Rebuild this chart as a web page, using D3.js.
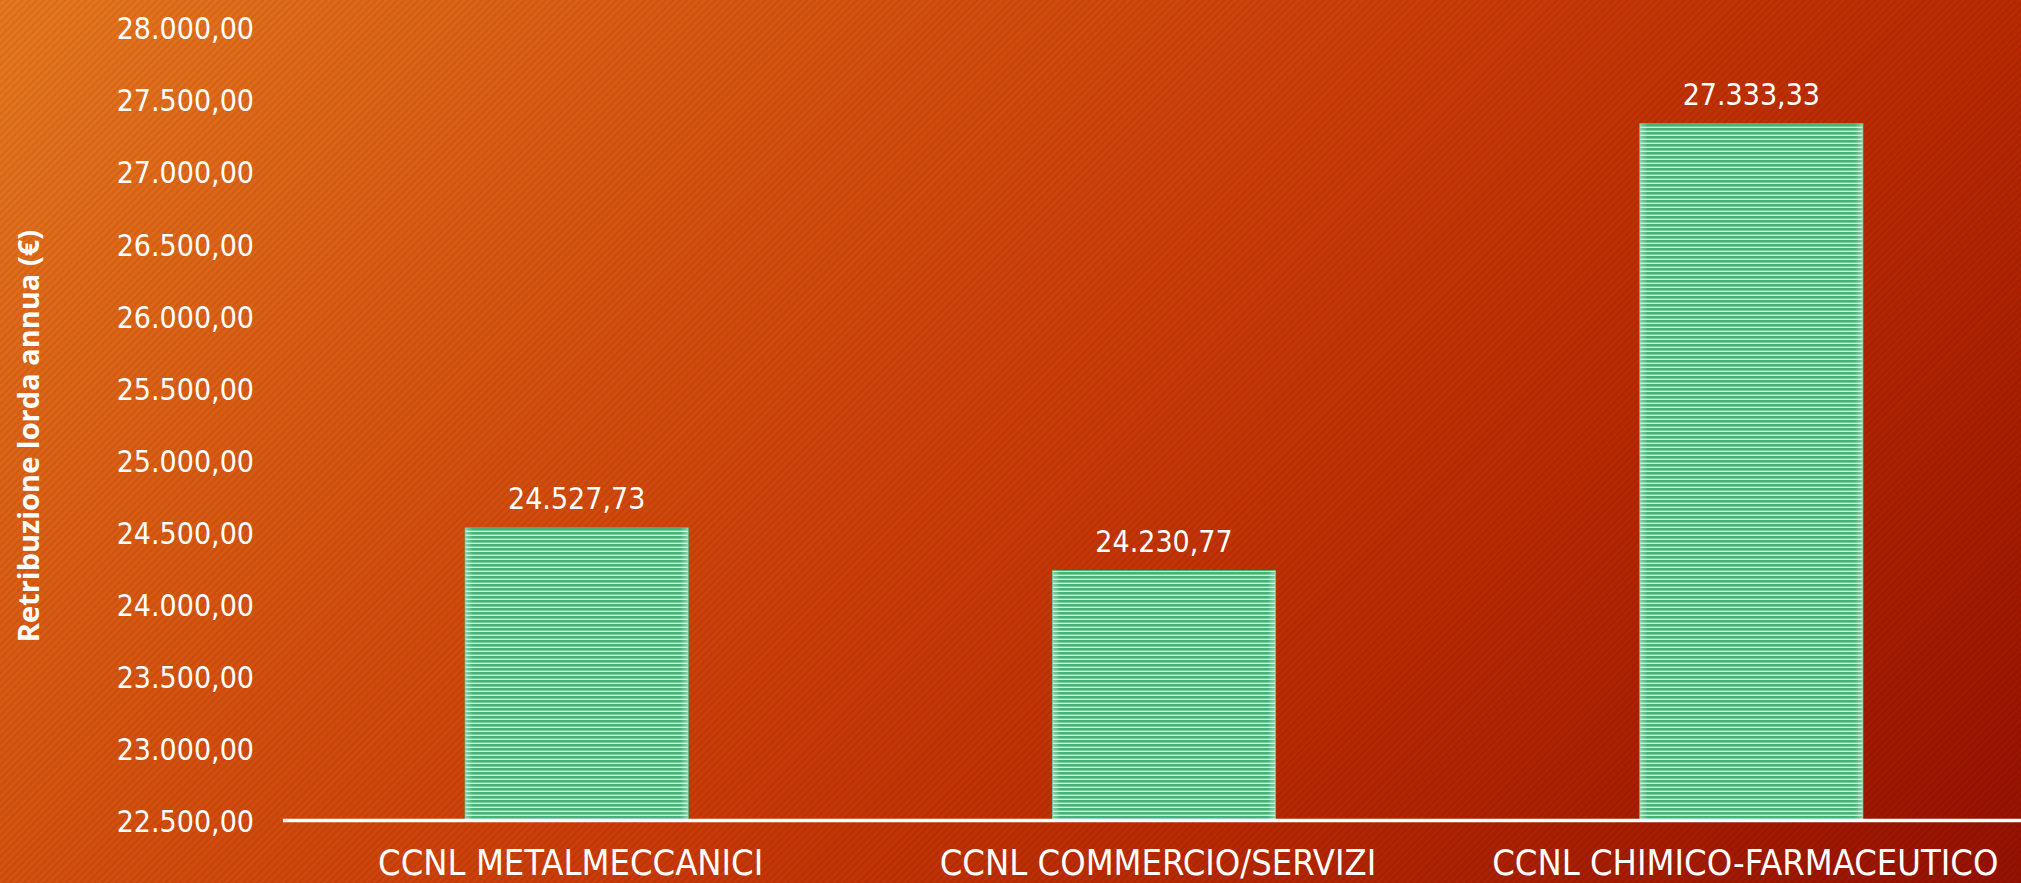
<!DOCTYPE html>
<html>
<head>
<meta charset="utf-8">
<script src="https://cdn.jsdelivr.net/npm/d3@7"></script>
<style>
  html, body { margin: 0; padding: 0; overflow: hidden; background: #c83a08; }
  svg { display: block; }
  .cond { font-family: "DejaVu Sans Condensed", "DejaVu Sans", sans-serif; font-stretch: condensed; }
</style>
</head>
<body>
<script>
const categories = ["CCNL METALMECCANICI", "CCNL COMMERCIO/SERVIZI", "CCNL CHIMICO-FARMACEUTICO"];
const values = [24527.73, 24230.77, 27333.33];
const yTicks = [22500, 23000, 23500, 24000, 24500, 25000, 25500, 26000, 26500, 27000, 27500, 28000];
const yTitle = "Retribuzione lorda annua (€)";

const W = 2021, H = 883;
const fmt = d3.formatLocale({decimal: ",", thousands: ".", grouping: [3], currency: ["", "€"]}).format(",.2f");

const svg = d3.select("body").append("svg").attr("width", W).attr("height", H);
const defs = svg.append("defs");

const bg = defs.append("linearGradient").attr("id", "bg")
  .attr("gradientUnits", "userSpaceOnUse")
  .attr("x1", 0).attr("y1", 0).attr("x2", 1452).attr("y2", 1452);
[[0, "#e6781f"], [0.3, "#d5520f"], [0.5, "#cb3c08"], [0.7, "#b92a02"], [1, "#951100"]]
  .forEach(([o, c]) => bg.append("stop").attr("offset", o).attr("stop-color", c));

const dp = defs.append("pattern").attr("id", "diag")
  .attr("patternUnits", "userSpaceOnUse").attr("width", 5).attr("height", 5)
  .attr("patternTransform", "rotate(45)");
dp.append("rect").attr("x", 0).attr("y", 0).attr("width", 2).attr("height", 5)
  .attr("fill", "#000").attr("opacity", 0.07);

const sp = defs.append("pattern").attr("id", "stripes")
  .attr("patternUnits", "userSpaceOnUse").attr("width", 8).attr("height", 4);
sp.append("rect").attr("width", 8).attr("height", 4).attr("fill", "#cdeedb");
sp.append("rect").attr("width", 8).attr("height", 2.6).attr("fill", "#47b277");

const edge = defs.append("linearGradient").attr("id", "edge")
  .attr("x1", 0).attr("y1", 0).attr("x2", 1).attr("y2", 0);
[[0, 0.45], [0.035, 0], [0.965, 0], [1, 0.45]]
  .forEach(([o, a]) => edge.append("stop").attr("offset", o).attr("stop-color", "#e8f8ee").attr("stop-opacity", a));

svg.append("rect").attr("width", W).attr("height", H).attr("fill", "url(#bg)");
svg.append("rect").attr("width", W).attr("height", H).attr("fill", "url(#diag)");

const y = d3.scaleLinear().domain([22500, 28000]).range([820, 27.5]);
const x = d3.scaleBand().domain(categories).range([283, 2045]).paddingInner(0.62).paddingOuter(0.31);

// bars
const bars = svg.append("g");
bars.selectAll("rect.bar").data(values).join("rect").attr("class", "bar")
  .attr("x", (d, i) => x(categories[i]))
  .attr("y", d => y(d))
  .attr("width", x.bandwidth())
  .attr("height", d => y(22500) - y(d))
  .attr("fill", "url(#stripes)")
  .attr("stroke", "#4fb27b").attr("stroke-width", 1);
bars.selectAll("rect.edge").data(values).join("rect").attr("class", "edge")
  .attr("x", (d, i) => x(categories[i]))
  .attr("y", d => y(d))
  .attr("width", x.bandwidth())
  .attr("height", d => y(22500) - y(d))
  .attr("fill", "url(#edge)");

// value labels
svg.append("g").selectAll("text").data(values).join("text")
  .attr("class", "cond")
  .attr("x", (d, i) => x(categories[i]) + x.bandwidth() / 2)
  .attr("y", d => y(d) - 19)
  .attr("text-anchor", "middle")
  .attr("fill", "#ffffff")
  .attr("font-size", 30)
  .text(d => fmt(d));

// y axis
const yAxis = d3.axisLeft(y).tickValues(yTicks).tickSize(0).tickPadding(0).tickFormat(d => fmt(d));
const yg = svg.append("g").attr("transform", "translate(254,0)").call(yAxis);
yg.select(".domain").remove();
yg.selectAll("text").attr("class", "cond").attr("fill", "#ffffff").attr("font-size", 30)
  .attr("dy", "0.38em");

// x axis
const xAxis = d3.axisBottom(x).tickSize(0).tickPadding(0);
const xg = svg.append("g").attr("transform", "translate(0,820)").call(xAxis);
xg.select(".domain").remove();
xg.selectAll("text").attr("class", "cond").attr("fill", "#ffffff").attr("font-size", 36)
  .attr("y", 55).attr("dy", 0).attr("dx", -6);

svg.append("line").attr("x1", 283).attr("x2", W).attr("y1", 820.5).attr("y2", 820.5)
  .attr("stroke", "#ffffff").attr("stroke-width", 3.5);

// y title
svg.append("text")
  .attr("transform", "translate(39,436) rotate(-90)")
  .attr("text-anchor", "middle")
  .attr("fill", "#ffffff")
  .attr("font-family", "'Open Sans', sans-serif")
  .attr("font-weight", "bold")
  .attr("font-size", 29)
  .text(yTitle);
</script>
</body>
</html>
